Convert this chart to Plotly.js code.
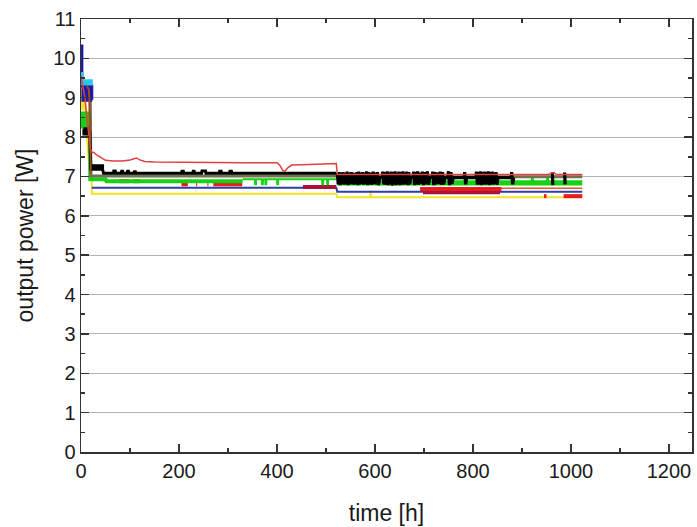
<!DOCTYPE html>
<html>
<head>
<meta charset="utf-8">
<script src="https://cdn.plot.ly/plotly-3.0.1.min.js"></script>
<style>html,body{margin:0;padding:0;background:#fff;}#chart{width:697px;height:527px;}</style>
</head>
<body>
<div id="chart"></div>
<script>
// ---- data (time in h, output power in W) ----
const tRed = [0, 4, 8, 12, 16, 19, 22, 26, 32, 40, 50, 65, 85, 100, 108, 113, 120, 130, 150, 200, 260, 330, 400, 406, 412, 416, 422, 430, 450, 480, 510, 521, 523, 600, 700, 800, 900, 955, 960, 965, 970, 1023];
const pRed = [9.55, 9.3, 9.0, 8.5, 8.0, 7.7, 7.62, 7.61, 7.55, 7.48, 7.41, 7.39, 7.39, 7.42, 7.46, 7.47, 7.42, 7.38, 7.37, 7.36, 7.36, 7.35, 7.35, 7.28, 7.15, 7.13, 7.22, 7.29, 7.30, 7.31, 7.33, 7.33, 7.05, 7.05, 7.05, 7.05, 7.05, 7.05, 7.09, 7.10, 7.05, 7.05];

const tOlive = [17, 19, 20, 45, 200, 521, 523, 1023];
const pOlive = [8.9, 8.9, 7.01, 7.01, 7.01, 7.01, 6.99, 6.99];

const tBlack1 = [6, 6, 8, 8, 10, 10, 12, 12, 14, 14, 16, 16, 18, 19.5, 20, 20, 23, 23, 26, 26, 29, 29, 32, 32, 35, 35, 38, 38, 41, 41, 44, 44, 46, 66, 67, 70, 71, 82, 83, 85, 86, 94, 95, 97, 98, 108, 109, 111, 112, 205, 206, 209, 210, 228, 229, 231, 232, 246, 247, 254, 255, 282, 283, 286, 287, 303, 304, 307, 308, 521];
const pBlack1 = [8.21, 8.08, 8.08, 8.21, 8.21, 8.08, 8.08, 8.21, 8.21, 8.08, 8.08, 8.21, 8.15, 7.27, 7.27, 7.18, 7.18, 7.27, 7.27, 7.18, 7.18, 7.27, 7.27, 7.18, 7.18, 7.27, 7.27, 7.18, 7.18, 7.27, 7.27, 7.18, 7.08, 7.08, 7.14, 7.14, 7.08, 7.08, 7.13, 7.13, 7.08, 7.08, 7.13, 7.13, 7.08, 7.08, 7.12, 7.12, 7.08, 7.08, 7.13, 7.13, 7.08, 7.08, 7.13, 7.13, 7.08, 7.08, 7.14, 7.14, 7.08, 7.08, 7.13, 7.13, 7.08, 7.08, 7.13, 7.13, 7.08, 7.08];

const tBlack2 = [523, 525, 527, 529, 531, 533, 535, 537, 539, 541, 543, 545, 547, 549, 551, 553, 555, 557, 559, 561, 563, 565, 567, 569, 571, 573, 575, 577, 579, 581, 583, 585, 587, 589, 591, 593, 596, 598, 600, 602, 605, 607, 610, 614, 616, 618, 620, 622,
  625, 627, 629, 631, 633, 635, 637, 639, 641, 643, 645, 647, 649, 651, 653, 655, 657, 659, 661, 663, 665, 667, 669, 671, 673, 677, 679, 681, 683, 685, 687, 689, 692, 694, 697, 699,
  702, 704, 707, 709, 712, 716, 718, 720, 723, 725, 728, 730, 733, 735, 738, 740, 743, 748, 750, 752, 755, 757, 760,
  782, 783, 785, 787, 806, 807, 809, 811, 813, 815, 817, 819, 821, 823, 825, 827, 829, 831, 833, 835, 837, 839, 841, 843, 845, 847, 849, 851, 878, 879, 881, 883, null, 962, 963, null, 987, 988];
const pBlack2 = [7.09, 6.80, 7.11, 6.78, 7.10, 6.81, 7.11, 6.79, 7.08, 6.82, 7.12, 6.78, 7.09, 6.80, 7.11, 6.81, 7.10, 6.79, 7.07, 6.82, 7.11, 6.78, 7.12, 6.80, 7.09, 6.81, 7.11, 6.79, 7.10, 6.82, 7.13, 6.78, 7.11, 6.80, 7.09, 6.79, 7.12, 6.81, 7.10, 6.80, 7.11, 6.78, 6.97, 6.97, 7.12, 6.80, 7.11, 6.79,
  7.13, 6.78, 7.10, 6.81, 7.12, 6.77, 7.11, 6.80, 7.13, 6.78, 7.09, 6.82, 7.12, 6.78, 7.11, 6.80, 7.13, 6.79, 7.10, 6.81, 7.12, 6.78, 7.11, 6.80, 6.97, 6.97, 7.12, 6.78, 7.11, 6.80, 7.13, 6.79, 7.10, 6.81, 7.12, 6.78,
  7.11, 6.80, 7.13, 6.79, 6.97, 6.97, 7.12, 6.78, 7.11, 6.80, 7.10, 6.81, 7.12, 6.79, 7.11, 6.80, 6.97, 6.97, 7.13, 6.78, 7.11, 6.81, 6.97,
  6.97, 7.11, 6.80, 6.97, 6.97, 7.12, 6.79, 7.11, 6.80, 7.13, 6.78, 7.11, 6.80, 7.12, 6.79, 7.11, 6.81, 7.13, 6.78, 7.11, 6.80, 7.12, 6.79, 7.10, 6.81, 7.11, 6.79, 6.97, 6.97, 7.11, 6.80, 6.97, null, 7.10, 6.78, null, 7.10, 6.80];

const tGreen = [2, 2, 4, 4, 6, 6, 8, 8, 10, 10, 12, 12, 14, 14, 16, 16, 18, 19, 50, 52, 330, null, 523, 1023];
const pGreen = [8.60, 8.22, 8.22, 8.60, 8.60, 8.22, 8.22, 8.60, 8.60, 8.22, 8.22, 8.60, 8.60, 8.22, 8.22, 8.60, 8.40, 6.93, 6.93, 6.88, 6.88, null, 6.82, 6.82];

const tGreen2 = [330, 355, 355.5, 357, 357.5, 369, 369.5, 371, 371.5, 376, 376.5, 378, 378.5, 400, 400.5, 402, 402.5, 492, 492.5, 494, 494.5, 502, 502.5, 504, 504.5, 521, null, 523, 920, 920.5, 922, 922.5, 951, 951.5, 953, 953.5, 1023];
const pGreen2 = [6.93, 6.93, 6.80, 6.80, 6.93, 6.93, 6.80, 6.80, 6.93, 6.93, 6.80, 6.80, 6.93, 6.93, 6.80, 6.80, 6.93, 6.93, 6.80, 6.80, 6.93, 6.93, 6.80, 6.80, 6.93, 6.93, null, 6.88, 6.88, 6.97, 6.97, 6.88, 6.88, 6.97, 6.97, 6.88, 6.88];

const tRed2 = [78, 98, null, 106, 120, null, 205, 218, null, 235, 237, null, 258, 260, null, 270, 329, null, 692, 858, null, 945, 950, null, 985, 1023];
const pRed2 = [6.88, 6.88, null, 6.88, 6.88, null, 6.80, 6.80, null, 6.80, 6.80, null, 6.80, 6.80, null, 6.80, 6.80, null, 6.68, 6.68, null, 6.50, 6.50, null, 6.50, 6.50];

const tCrimson = [453, 521, null, 698, 855];
const pCrimson = [6.73, 6.73, null, 6.60, 6.60];

const tOrange = [855, 1023];
const pOrange = [6.70, 6.70];

const tBlue = [22, 521, 523, 1023];
const pBlue = [6.71, 6.71, 6.61, 6.61];

const tYellow = [0, 1, 2, 2, 3, 3, 4, 4, 5, 5, 6, 6, 7, 10, 15, 20, 22, 22, 100, 300, 521, 523, 590, 591, 592, 700, 900, 1023];
const pYellow = [9.2, 8.7, 8.7, 9.2, 9.2, 8.7, 8.7, 9.2, 9.2, 8.7, 8.7, 9.1, 8.9, 8.5, 7.5, 7.0, 6.95, 6.56, 6.56, 6.56, 6.56, 6.47, 6.47, 6.65, 6.47, 6.47, 6.47, 6.47];

const tNavy = [0.8, 0.8, 3, 5, 5, 7, 7, 9, 9, 11, 11, 13, 13, 15, 15, 17, 17, 19, 19, 21, 21, 23];
const pNavy = [10.35, 9.4, 9.3, 9.28, 8.95, 8.95, 9.28, 9.28, 8.95, 8.95, 9.28, 9.28, 8.95, 8.95, 9.28, 9.28, 8.95, 8.95, 9.28, 9.28, 8.95, 8.95];

const tCyan = [0, 2, 4, 4, 8, 8, 12, 12, 16, 16, 20, 20, 24];
const pCyan = [9.65, 9.55, 9.42, 9.36, 9.36, 9.42, 9.42, 9.36, 9.36, 9.42, 9.42, 9.36, 9.36];

const tBrown = [12, 16, 17, 18, 19, 20];
const pBrown = [9.3, 9.2, 9.0, 8.2, 7.4, 7.08];

const xTicks = [0, 200, 400, 600, 800, 1000, 1200];
const yTicks = [0, 1, 2, 3, 4, 5, 6, 7, 8, 9, 10, 11];

function tr(x, y, color, width) {
  return {x: x, y: y, type: 'scatter', mode: 'lines', connectgaps: false,
          line: {color: color, width: width}, hoverinfo: 'skip'};
}

const data = [
  tr(tYellow, pYellow, '#f2e42a', 2),
  tr(tBlue, pBlue, '#2f3fa8', 2),
  tr(tCrimson, pCrimson, '#a8123c', 4),
  tr(tOrange, pOrange, '#e05a20', 1.5),
  tr(tRed2, pRed2, '#e81c1c', 4),
  tr(tGreen, pGreen, '#14d214', 4),
  tr(tGreen2, pGreen2, '#14d214', 2),
  tr(tOlive, pOlive, '#727250', 3),
  tr(tBlack1, pBlack1, '#000000', 3),
  tr(tBlack2, pBlack2, '#000000', 3.2),
  tr(tNavy, pNavy, '#1a1aa8', 4),
  tr(tCyan, pCyan, '#28c8f0', 4),
  tr(tBrown, pBrown, '#a0481e', 2),
  tr(tRed, pRed, '#e04040', 1.5)
];

const font = 'Liberation Sans, Arial, sans-serif';
const layout = {
  width: 697, height: 527,
  margin: {l: 81, r: 5, t: 19, b: 75},
  paper_bgcolor: '#ffffff', plot_bgcolor: '#ffffff',
  showlegend: false,
  font: {family: font, color: '#1a1a1a', size: 20},
  xaxis: {
    range: [0, 1247], tickmode: 'array', tickvals: xTicks, ticktext: xTicks.map(String),
    ticks: 'inside', ticklen: 8, tickwidth: 1.5, tickcolor: '#333',
    minor: {dtick: 100, tick0: 0, ticks: 'inside', ticklen: 4, tickwidth: 1.5, tickcolor: '#333', showgrid: false},
    showline: true, linecolor: '#333', linewidth: 1.5, mirror: 'ticks',
    showgrid: false, zeroline: false,
    tickfont: {family: font, size: 20, color: '#1a1a1a'},
    title: {text: 'time [h]', font: {family: font, size: 23, color: '#1a1a1a'}, standoff: 24}
  },
  yaxis: {
    range: [0, 11], tickmode: 'array', tickvals: yTicks, ticktext: yTicks.map(String),
    ticks: 'inside', ticklen: 8, tickwidth: 1.5, tickcolor: '#333',
    minor: {dtick: 0.5, tick0: 0, ticks: 'inside', ticklen: 4, tickwidth: 1.5, tickcolor: '#333', showgrid: false},
    showline: true, linecolor: '#333', linewidth: 1.5, mirror: 'ticks',
    showgrid: true, gridcolor: '#b4b4b4', gridwidth: 1, zeroline: false,
    tickfont: {family: font, size: 20, color: '#1a1a1a'},
    title: {text: 'output power [W]', font: {family: font, size: 23, color: '#1a1a1a'}, standoff: 13}
  }
};

Plotly.newPlot('chart', data, layout, {displayModeBar: false, staticPlot: true});
</script>
</body>
</html>
